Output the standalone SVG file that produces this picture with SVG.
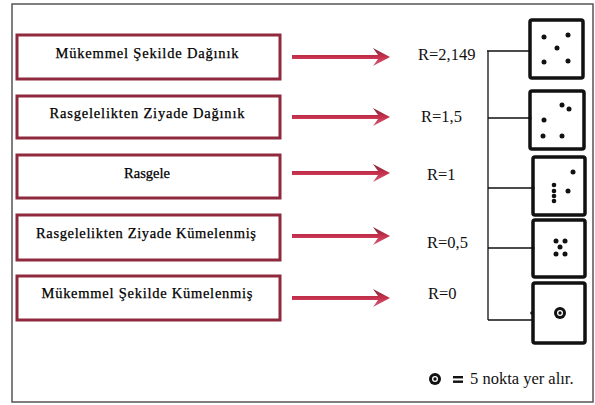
<svg xmlns="http://www.w3.org/2000/svg" width="595" height="405" viewBox="0 0 595 405">
<style>
.frame{fill:#fff;stroke:#555;stroke-width:1.5}
.box{fill:#fff;stroke:#8f2a3e;stroke-width:3}
.lbl{font-family:'Liberation Serif','Times New Roman','DejaVu Serif',serif;font-size:14.5px;fill:#000;stroke:#000;stroke-width:0.25;text-anchor:middle}
.r{font-family:'Liberation Serif','Times New Roman','DejaVu Serif',serif;font-size:16.5px;fill:#111}
.dbox{fill:#fff;stroke:#111;stroke-width:3.5}
.dot{fill:#111}
.ln{stroke:#111;stroke-width:1.3;fill:none}
.arr{fill:url(#ag)}
</style>
<defs>
<linearGradient id="ag" x1="0" y1="0" x2="0" y2="1">
<stop offset="0" stop-color="#7a2a3a"/>
<stop offset="0.5" stop-color="#c8304c"/>
<stop offset="1" stop-color="#d0607a"/>
</linearGradient>
</defs>
<rect class="frame" x="12" y="4" width="581" height="398"/>
<g id="n1"><rect class="box" x="17" y="35" width="263" height="44"/><text class="lbl" x="147" y="58" textLength="183">Mükemmel Şekilde Dağınık</text></g>
<g id="n2"><rect class="box" x="17" y="96" width="263" height="42"/><text class="lbl" x="147" y="118" textLength="195">Rasgelelikten Ziyade Dağınık</text></g>
<g id="n3"><rect class="box" x="17" y="155" width="263" height="43"/><text class="lbl" x="147" y="178">Rasgele</text></g>
<g id="n4"><rect class="box" x="17" y="215" width="263" height="45"/><text class="lbl" x="146" y="238" textLength="220">Rasgelelikten Ziyade Kümelenmiş</text></g>
<g id="n5"><rect class="box" x="17" y="276" width="263" height="44"/><text class="lbl" x="147" y="298" textLength="211">Mükemmel Şekilde Kümelenmiş</text></g>
<g id="r1"><text class="r" x="418" y="60">R=2,149</text></g>
<g id="r2"><text class="r" x="421" y="122">R=1,5</text></g>
<g id="r3"><text class="r" x="427" y="180">R=1</text></g>
<g id="r4"><text class="r" x="427" y="248">R=0,5</text></g>
<g id="r5"><text class="r" x="428" y="299">R=0</text></g>
<g id="d1"><rect class="dbox" x="530" y="20" width="53" height="58" rx="2"/>
<circle class="dot" cx="544" cy="37" r="2.5"/><circle class="dot" cx="568" cy="35" r="2.5"/><circle class="dot" cx="557" cy="48" r="2.5"/><circle class="dot" cx="544" cy="62" r="2.5"/><circle class="dot" cx="568" cy="61" r="2.5"/></g>
<g id="d2"><rect class="dbox" x="530" y="91" width="54" height="58" rx="2"/>
<circle class="dot" cx="562" cy="105" r="2.5"/><circle class="dot" cx="569" cy="109" r="2.5"/><circle class="dot" cx="544" cy="120" r="2.5"/><circle class="dot" cx="543" cy="136" r="2.5"/><circle class="dot" cx="562" cy="136" r="2.5"/></g>
<g id="d3"><rect class="dbox" x="533" y="157" width="52" height="58" rx="2"/>
<circle class="dot" cx="573" cy="172" r="2.5"/><circle class="dot" cx="568" cy="191" r="2.5"/><circle class="dot" cx="554" cy="185" r="2.3"/><circle class="dot" cx="554" cy="191" r="2.3"/><circle class="dot" cx="554" cy="196" r="2.3"/><circle class="dot" cx="554" cy="201" r="2.3"/></g>
<g id="d4"><rect class="dbox" x="533" y="220" width="52" height="57" rx="2"/>
<circle class="dot" cx="556" cy="241" r="2.5"/><circle class="dot" cx="565" cy="241" r="2.5"/><circle class="dot" cx="560" cy="247" r="2.5"/><circle class="dot" cx="556" cy="254" r="2.5"/><circle class="dot" cx="565" cy="254" r="2.5"/></g>
<g id="d5"><rect class="dbox" x="533" y="283" width="52" height="60" rx="2"/>
<circle class="dot" cx="560" cy="313" r="6"/><circle cx="560" cy="313" r="3" fill="#fff"/><circle class="dot" cx="560" cy="313" r="1.7"/></g>
<g id="legend">
<circle class="dot" cx="435" cy="379" r="6"/><circle cx="435" cy="379" r="3" fill="#fff"/><circle class="dot" cx="435" cy="379" r="1.7"/>
<rect class="dot" x="453" y="376" width="10" height="2.4"/><rect class="dot" x="453" y="380.5" width="10" height="2.4"/>
<text class="r" x="470" y="384">5 nokta yer alır.</text>
</g>
<g id="connectors">
<polygon class="arr" points="292,55 378,55 373,48 390,57 373,66 378,59 292,59"/>
<polygon class="arr" points="292,115 378,115 373,108 390,117 373,126 378,119 292,119"/>
<polygon class="arr" points="292,171 378,171 373,164 390,173 373,182 378,175 292,175"/>
<polygon class="arr" points="292,234 378,234 373,227 390,236 373,245 378,238 292,238"/>
<polygon class="arr" points="292,296 378,296 373,289 390,298 373,307 378,300 292,300"/>
<path class="ln" d="M487,51 H530 M488,51 V320 M488,118 H530 M488,188 H533 M488,248 H533 M488,320 H533"/>
<circle class="dot" cx="530" cy="118" r="1.6"/><circle class="dot" cx="533" cy="188" r="1.6"/><circle class="dot" cx="533" cy="248" r="1.6"/><circle class="dot" cx="532" cy="313" r="1.8"/>
</g>
</svg>
